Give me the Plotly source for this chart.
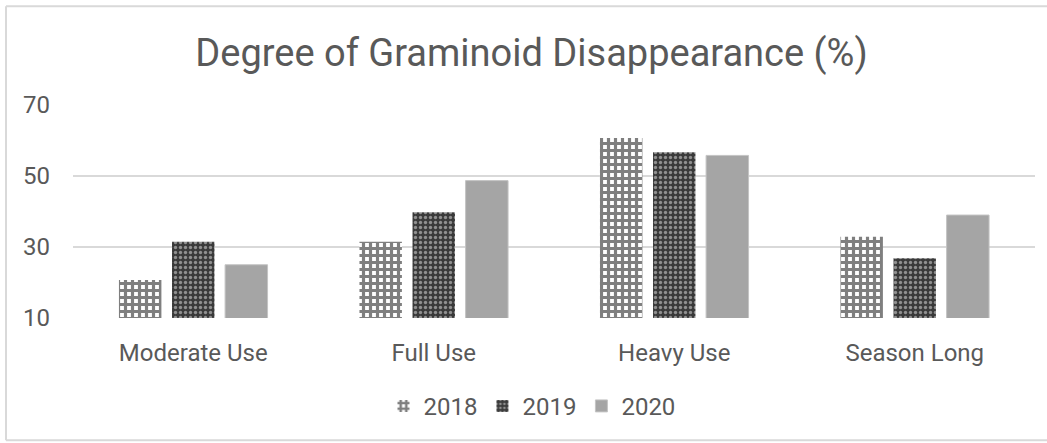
import plotly.graph_objects as go

categories = ["Moderate Use", "Full Use", "Heavy Use", "Season Long"]
years = ["2018", "2019", "2020"]
v2018 = [20.7, 31.5, 60.7, 32.9]
v2019 = [31.5, 39.8, 56.7, 26.8]
v2020 = [25.0, 48.7, 55.8, 39.0]
y_ticks = [10, 30, 50, 70]

FONT = "Roboto, sans-serif"
TXT = "#595959"

W, H = 1047, 443
L, R, T, B = 73, 12, 105, 124.5
pw = W - L - R
ph = H - T - B

fig = go.Figure()
fig.add_trace(go.Bar(
    name=years[0], x=categories, y=v2018,
    marker=dict(color="white", line=dict(width=0),
                pattern=dict(shape="+", fgcolor="black", bgcolor="white", size=7, solidity=0.7)),
))
fig.add_trace(go.Bar(
    name=years[1], x=categories, y=v2019,
    marker=dict(color="#333333", line=dict(width=0),
                pattern=dict(shape=".", fgcolor="#e6e6e6", bgcolor="#3a3a3a", size=5, solidity=0.35)),
))
fig.add_trace(go.Bar(
    name=years[2], x=categories, y=v2020,
    marker=dict(color="#a5a5a5", line=dict(color="#c4c4c4", width=1)),
))

def px_x(p):
    return (p - L) / pw

def px_y(p):
    return (H - B - p) / ph

fig.add_shape(type="line", xref="paper", yref="paper",
              x0=px_x(6), x1=px_x(1047), y0=px_y(6), y1=px_y(6),
              line=dict(color="#d9d9d9", width=2), layer="below")
fig.add_shape(type="line", xref="paper", yref="paper",
              x0=px_x(6), x1=px_x(1047), y0=px_y(441), y1=px_y(441),
              line=dict(color="#d9d9d9", width=2), layer="below")
fig.add_shape(type="line", xref="paper", yref="paper",
              x0=px_x(6), x1=px_x(6), y0=px_y(441), y1=px_y(6),
              line=dict(color="#d9d9d9", width=2), layer="below")

fig.update_layout(
    width=W, height=H,
    margin=dict(l=L, r=R, t=T, b=B),
    paper_bgcolor="white", plot_bgcolor="white",
    font=dict(family=FONT, color=TXT, size=24),
    title=dict(text="Degree of Graminoid Disappearance (%)",
               font=dict(family=FONT, size=38, color=TXT),
               x=px_x(531.5), xref="paper", xanchor="center",
               y=1 - 53 / H, yanchor="middle"),
    barmode="group", bargap=0.338, bargroupgap=0.2,
    showlegend=True,
    legend=dict(orientation="h", x=px_x(532), xanchor="center",
                y=px_y(407), yanchor="middle",
                font=dict(size=24, color=TXT), itemwidth=30,
                traceorder="normal"),
    xaxis=dict(showgrid=False, showline=False, ticks="",
               tickfont=dict(size=24, color=TXT), ticklabelstandoff=18),
    yaxis=dict(range=[10, 70], tickvals=y_ticks, showgrid=True,
               gridcolor="#d9d9d9", gridwidth=1.5, zeroline=False,
               showline=False, ticks="", tickfont=dict(size=24, color=TXT),
               ticklabelstandoff=22),
)

fig.write_html("out.html", config={"displayModeBar": False},
               post_script="document.body.style.margin='0';")
